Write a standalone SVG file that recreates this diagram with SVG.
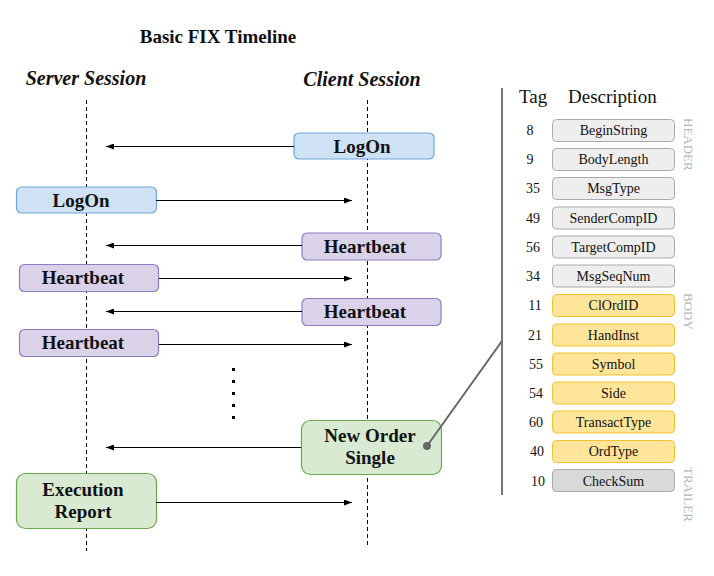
<svg xmlns="http://www.w3.org/2000/svg" width="714" height="576" viewBox="0 0 714 576">
<style>
text{font-family:"Liberation Serif","Times New Roman",serif;fill:#111}
.title{font-size:19px;font-weight:bold}
.sess{font-size:20px;font-weight:bold;font-style:italic}
.lbl{font-size:19px;font-weight:bold;text-anchor:middle}
.blue{fill:#cfe2f3;stroke:#6fa8dc;stroke-width:1.2}
.purple{fill:#d9d2e9;stroke:#8e7cc3;stroke-width:1.2}
.green{fill:#d9ead3;stroke:#6aa84f;stroke-width:1.2}
.life{stroke:#000;stroke-width:1;stroke-dasharray:4,3}
.msg{stroke:#000;stroke-width:1;fill:none}
.hdr{font-size:19px}
.tag{font-size:14px;text-anchor:middle}
.fld{font-size:14px;text-anchor:middle}
.fg{fill:#eeeeee;stroke:#aaaaaa;stroke-width:1}
.fy{fill:#ffe599;stroke:#f1c232;stroke-width:1}
.fd{fill:#d9d9d9;stroke:#aaaaaa;stroke-width:1}
.side{font-size:13px;fill:#b7b7b7}
</style>
<defs>
<marker id="ah" viewBox="0 0 8 6" refX="8" refY="3" markerWidth="8" markerHeight="6" markerUnits="userSpaceOnUse" orient="auto">
<path d="M0,0 L8,3 L0,6 z" fill="#000"/>
</marker>
</defs>

<text class="title" x="218" y="43" text-anchor="middle">Basic FIX Timeline</text>
<text class="sess" x="86" y="85" text-anchor="middle">Server Session</text>
<text class="sess" x="362" y="86" text-anchor="middle">Client Session</text>

<g id="lifelines">
<line class="life" x1="86.5" y1="100" x2="86.5" y2="551"/>
<line class="life" x1="367.5" y1="100" x2="367.5" y2="548"/>
</g>

<g id="ellipsis" fill="#000">
<rect x="232" y="368" width="3" height="3"/>
<rect x="232" y="380" width="3" height="3"/>
<rect x="232" y="392" width="3" height="3"/>
<rect x="232" y="404" width="3" height="3"/>
<rect x="232" y="416" width="3" height="3"/>
</g>

<g id="logon-client">
<rect class="blue" x="294" y="133" width="140" height="26" rx="5"/>
<text class="lbl" x="362" y="152.5">LogOn</text>
</g>
<g id="logon-server">
<rect class="blue" x="16.5" y="187" width="140" height="26" rx="5"/>
<text class="lbl" x="81" y="206.5">LogOn</text>
</g>
<g id="hb-client-1">
<rect class="purple" x="302" y="233" width="139" height="27" rx="5"/>
<text class="lbl" x="365" y="252.5">Heartbeat</text>
</g>
<g id="hb-server-1">
<rect class="purple" x="19.5" y="264.5" width="139" height="27" rx="5"/>
<text class="lbl" x="83" y="284">Heartbeat</text>
</g>
<g id="hb-client-2">
<rect class="purple" x="302" y="298.5" width="139" height="27" rx="5"/>
<text class="lbl" x="365" y="318">Heartbeat</text>
</g>
<g id="hb-server-2">
<rect class="purple" x="19.5" y="329.5" width="139" height="27" rx="5"/>
<text class="lbl" x="83" y="349">Heartbeat</text>
</g>
<g id="new-order-single">
<rect class="green" x="301.5" y="420.5" width="140" height="54" rx="9"/>
<text class="lbl" x="370" y="442">New Order</text>
<text class="lbl" x="370" y="464">Single</text>
</g>
<g id="execution-report">
<rect class="green" x="16.5" y="473.5" width="140" height="55" rx="9"/>
<text class="lbl" x="83" y="496">Execution</text>
<text class="lbl" x="83" y="518">Report</text>
</g>

<g id="message-panel">
<line x1="502" y1="88" x2="502" y2="495" stroke="#777" stroke-width="2"/>
<text class="hdr" x="519" y="103">Tag</text>
<text class="hdr" x="568" y="103">Description</text>

<g id="f8"><text class="tag" x="530" y="135">8</text><rect class="fg" x="552.5" y="119.5" width="122" height="22" rx="4"/><text class="fld" x="613.5" y="135">BeginString</text></g>
<g id="f9"><text class="tag" x="530" y="164">9</text><rect class="fg" x="552.5" y="148.5" width="122" height="22" rx="4"/><text class="fld" x="613.5" y="164">BodyLength</text></g>
<g id="f35"><text class="tag" x="533" y="193">35</text><rect class="fg" x="552.5" y="177.5" width="122" height="22" rx="4"/><text class="fld" x="613.5" y="193">MsgType</text></g>
<g id="f49"><text class="tag" x="533" y="222.5">49</text><rect class="fg" x="552.5" y="207" width="122" height="22" rx="4"/><text class="fld" x="613.5" y="222.5">SenderCompID</text></g>
<g id="f56"><text class="tag" x="533" y="251.5">56</text><rect class="fg" x="552.5" y="236" width="122" height="22" rx="4"/><text class="fld" x="613.5" y="251.5">TargetCompID</text></g>
<g id="f34"><text class="tag" x="533" y="281">34</text><rect class="fg" x="552.5" y="265" width="122" height="22" rx="4"/><text class="fld" x="613.5" y="281">MsgSeqNum</text></g>
<g id="f11"><text class="tag" x="535" y="310">11</text><rect class="fy" x="552.5" y="294.5" width="122" height="22" rx="4"/><text class="fld" x="613.5" y="310">ClOrdID</text></g>
<g id="f21"><text class="tag" x="535" y="339.5">21</text><rect class="fy" x="552.5" y="324" width="122" height="22" rx="4"/><text class="fld" x="613.5" y="339.5">HandInst</text></g>
<g id="f55"><text class="tag" x="536" y="368.5">55</text><rect class="fy" x="552.5" y="353" width="122" height="22" rx="4"/><text class="fld" x="613.5" y="368.5">Symbol</text></g>
<g id="f54"><text class="tag" x="536" y="397.5">54</text><rect class="fy" x="552.5" y="382" width="122" height="22" rx="4"/><text class="fld" x="613.5" y="397.5">Side</text></g>
<g id="f60"><text class="tag" x="536" y="427">60</text><rect class="fy" x="552.5" y="411" width="122" height="22" rx="4"/><text class="fld" x="613.5" y="427">TransactType</text></g>
<g id="f40"><text class="tag" x="537" y="456">40</text><rect class="fy" x="552.5" y="440.5" width="122" height="22" rx="4"/><text class="fld" x="613.5" y="456">OrdType</text></g>
<g id="f10"><text class="tag" x="538" y="485.5">10</text><rect class="fd" x="552.5" y="469.5" width="122" height="22" rx="4"/><text class="fld" x="613.5" y="485.5">CheckSum</text></g>

<text class="side" transform="translate(684,118) rotate(90)">HEADER</text>
<text class="side" transform="translate(684,293) rotate(90)">BODY</text>
<text class="side" transform="translate(684,467) rotate(90)">TRAILER</text>
</g>

<g id="connectors">
<line class="msg" x1="294" y1="146.5" x2="106" y2="146.5" marker-end="url(#ah)"/>
<line class="msg" x1="156" y1="200.5" x2="352" y2="200.5" marker-end="url(#ah)"/>
<line class="msg" x1="302" y1="245.5" x2="106" y2="245.5" marker-end="url(#ah)"/>
<line class="msg" x1="159" y1="278.5" x2="352" y2="278.5" marker-end="url(#ah)"/>
<line class="msg" x1="302" y1="311.5" x2="106" y2="311.5" marker-end="url(#ah)"/>
<line class="msg" x1="159" y1="344.5" x2="352" y2="344.5" marker-end="url(#ah)"/>
<line class="msg" x1="301" y1="447.5" x2="106" y2="447.5" marker-end="url(#ah)"/>
<line class="msg" x1="156" y1="502.5" x2="352" y2="502.5" marker-end="url(#ah)"/>
<line x1="427" y1="446" x2="502" y2="341" stroke="#666" stroke-width="2"/>
<circle cx="427" cy="446" r="4" fill="#666"/>
</g>
</svg>
